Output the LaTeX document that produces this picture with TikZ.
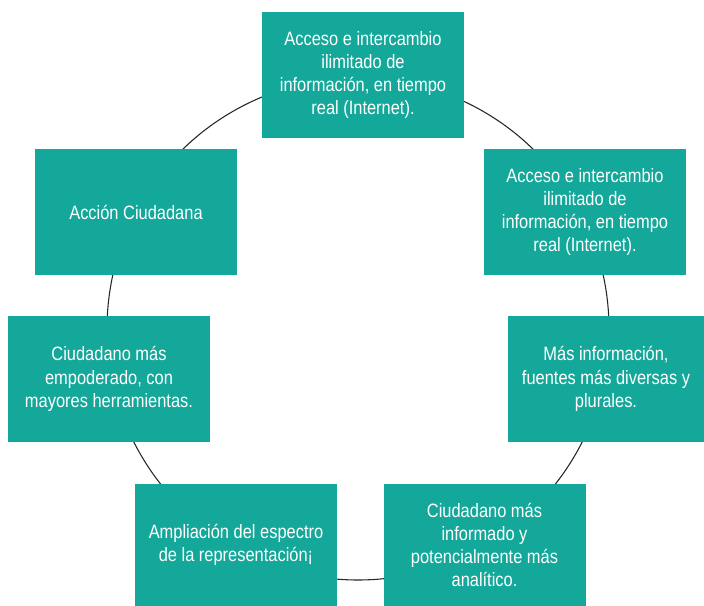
\documentclass[tikz,border=0pt]{standalone}
\usepackage{fontspec}
\setmainfont{Liberation Sans}[FakeStretch=0.85]
\definecolor{teal1}{RGB}{20,168,154}
\begin{document}
\begin{tikzpicture}[x=0.75pt,y=-0.75pt,
  box/.style={fill=teal1,draw=none,minimum width=151.5pt,minimum height=94.5pt,
    text=white,align=center,font=\fontsize{14.5pt}{17.4pt}\selectfont,inner sep=0pt}]
\useasboundingbox (0,0) rectangle (704,606);
\node[draw=none,minimum size=0pt] (c) at (358,329) {};
\draw[line width=0.8pt,black!85] (c) circle[radius=188.25pt];
\node[box] (top) at (363,75) {Acceso e intercambio\\ilimitado de\\información, en tiempo\\real (Internet).};
\node[box] (r1) at (585,212) {Acceso e intercambio\\ilimitado de\\información, en tiempo\\real (Internet).};
\node[box,minimum width=147pt] (r2) at (606,379) {Más información,\\fuentes más diversas y\\plurales.};
\node[box,minimum height=91.5pt] (r3) at (484.5,545) {Ciudadano más\\informado y\\potencialmente más\\analítico.};
\node[box,minimum height=91.5pt] (l3) at (236,545) {Ampliación del espectro\\de la representación¡};
\node[box] (l2) at (109,379) {Ciudadano más\\empoderado, con\\mayores herramientas.};
\node[box] (l1) at (136,212) {Acción Ciudadana};
\end{tikzpicture}
\end{document}
